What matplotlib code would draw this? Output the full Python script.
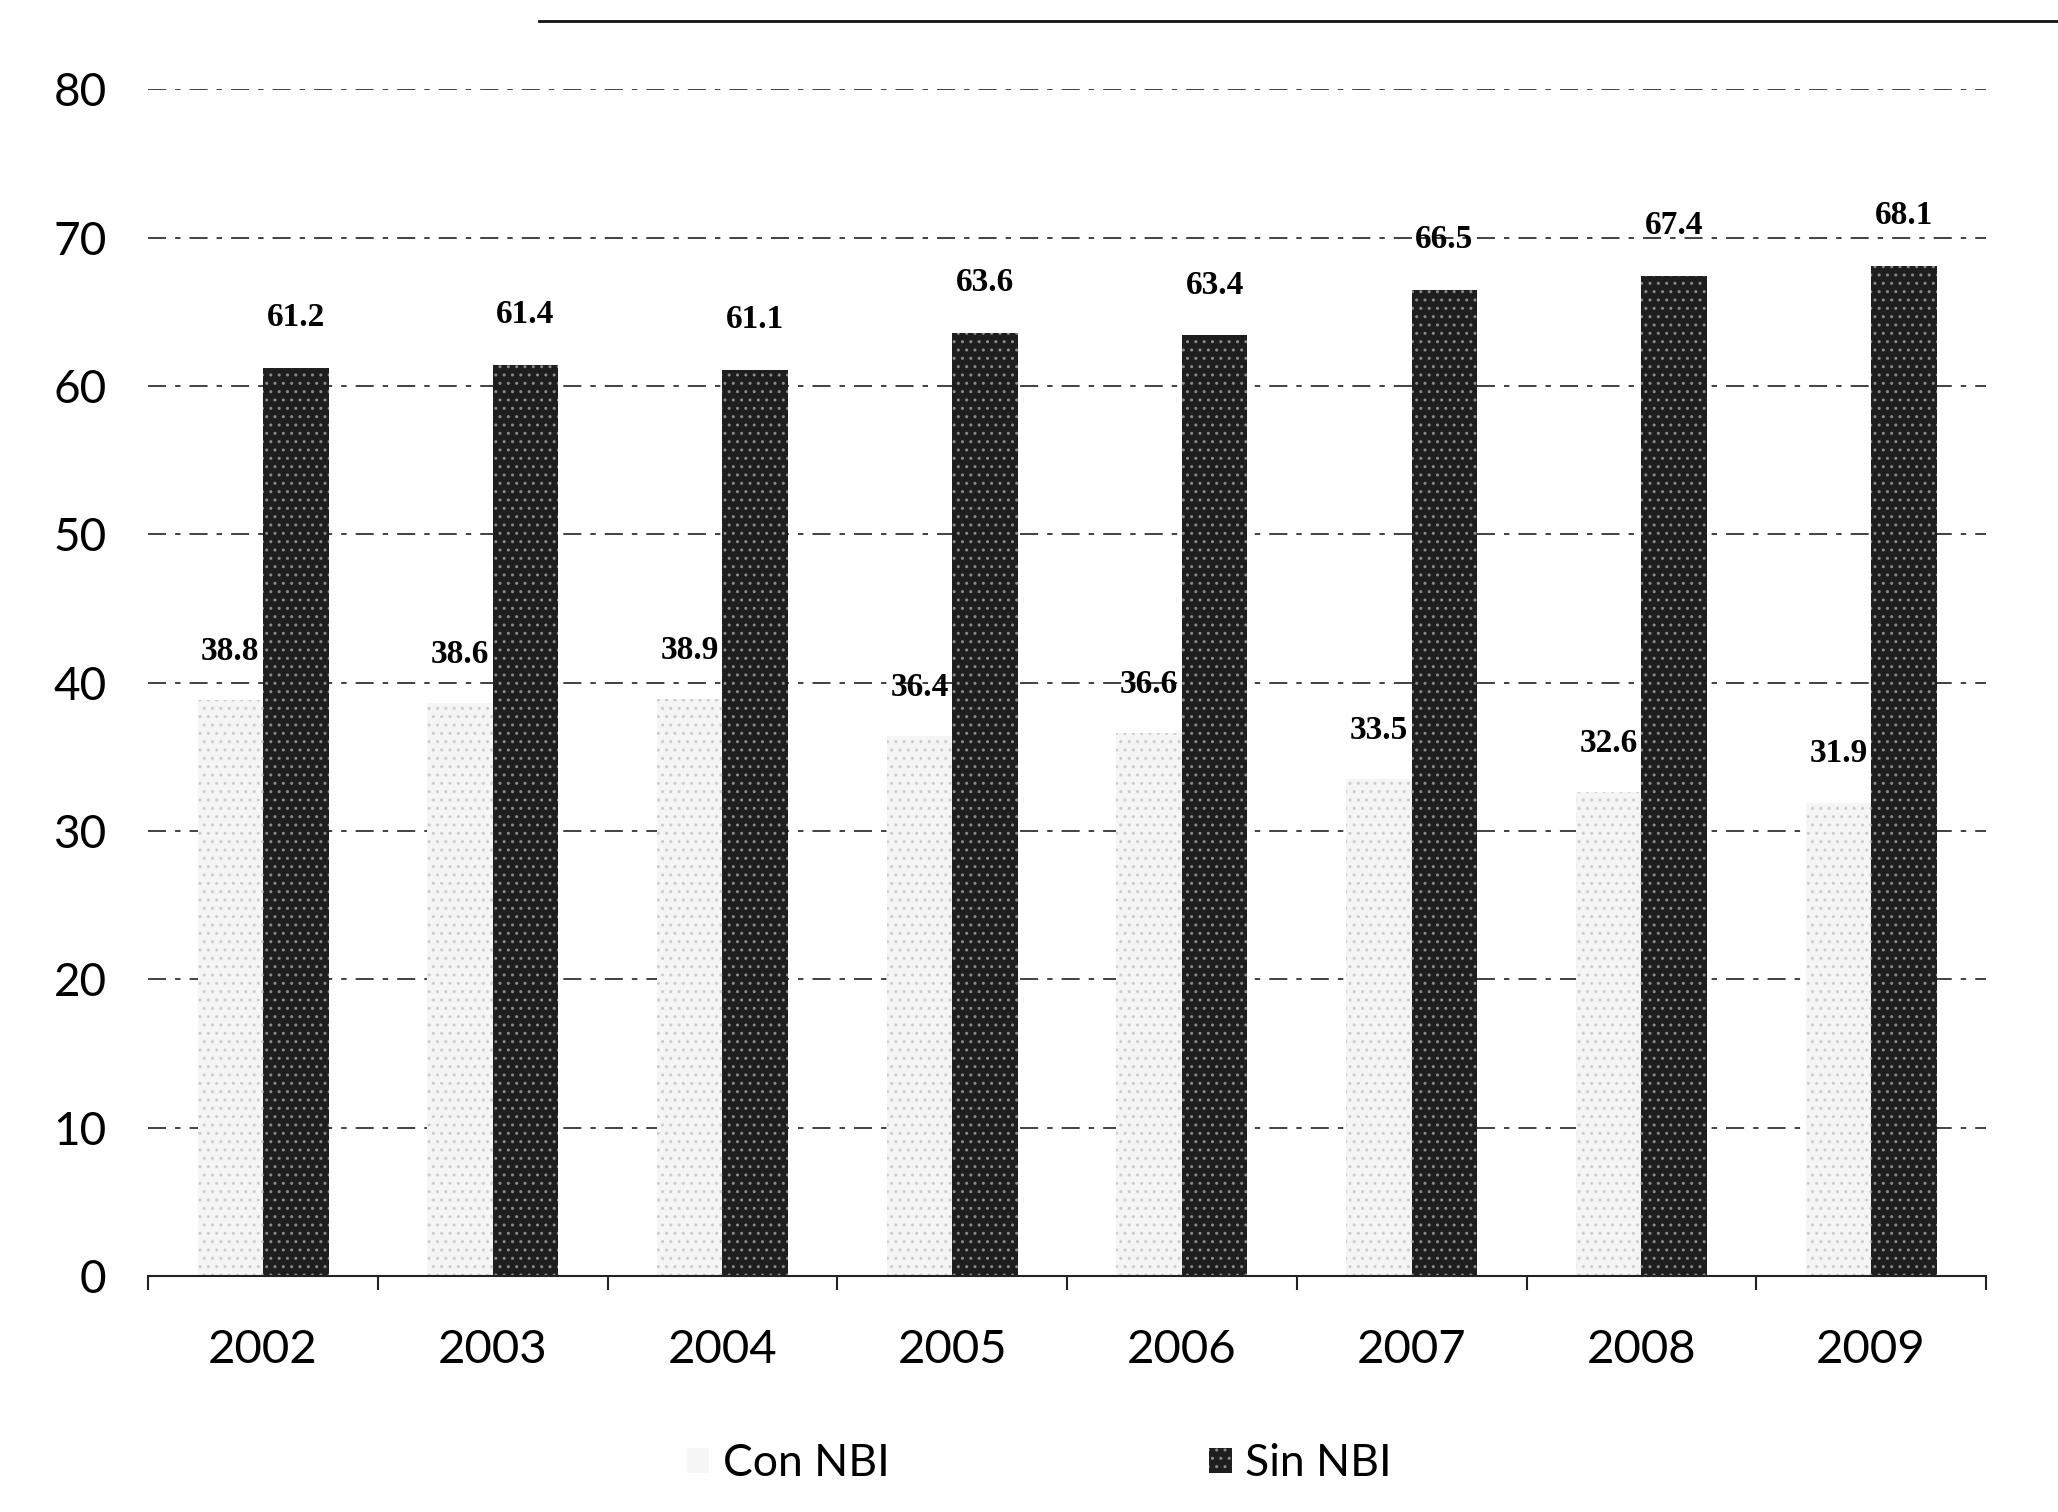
import numpy as np
import matplotlib
matplotlib.use('Agg')
import matplotlib.pyplot as plt
from matplotlib.patches import Patch
from matplotlib.lines import Line2D

years = ['2002', '2003', '2004', '2005', '2006', '2007', '2008', '2009']
con_nbi = [38.8, 38.6, 38.9, 36.4, 36.6, 33.5, 32.6, 31.9]
sin_nbi = [61.2, 61.4, 61.1, 63.6, 63.4, 66.5, 67.4, 68.1]

fig = plt.figure(figsize=(20.58, 15.12), dpi=100)
ax = fig.add_axes([0.072, 0.156, 0.893, 0.785])

x = np.arange(len(years))
w = 0.285

# light bars (Con NBI), barely visible in the scan
ax.bar(x - w / 2, con_nbi, w, color='#f5f5f5', edgecolor='none', zorder=2)
ax.bar(x - w / 2, con_nbi, w, facecolor='none', edgecolor='#cccccc', linewidth=0, hatch='..', zorder=2)
# dark speckled bars (Sin NBI)
ax.bar(x + w / 2, sin_nbi, w, color='#1e1e1e', edgecolor='none', zorder=2)
ax.bar(x + w / 2, sin_nbi, w, facecolor='none', edgecolor='#8a8a8a', linewidth=0, hatch='..', zorder=2)

lab_font = dict(family='Liberation Serif', fontweight='bold', fontsize=24, ha='center', va='center')
for i in range(len(years)):
    ax.text(x[i] - w / 2, con_nbi[i] + 3.3, '%.1f' % con_nbi[i], **lab_font)
    ax.text(x[i] + w / 2, sin_nbi[i] + 3.4, '%.1f' % sin_nbi[i], **lab_font)

ax.set_xlim(-0.5, 7.5)
ax.set_ylim(0, 80)
ax.set_yticks(range(0, 81, 10))
ax.set_xticks(x)
ax.set_xticklabels(years)
ax.set_xticks(np.arange(-0.5, 8, 1), minor=True)
ax.tick_params(axis='y', length=0, pad=30, labelsize=33)
ax.tick_params(axis='x', which='major', length=0, pad=38, labelsize=34)
ax.tick_params(axis='x', which='minor', length=10, width=1.5, direction='out', color='#222222')
for t in ax.get_xticklabels() + ax.get_yticklabels():
    t.set_fontfamily('Lato')

for s in ['top', 'right', 'left']:
    ax.spines[s].set_visible(False)
ax.spines['bottom'].set_color('#222222')
ax.spines['bottom'].set_linewidth(1.5)

ax.yaxis.grid(True, linestyle=(0, (10, 5, 3, 5)), color='#333333', linewidth=1.3, zorder=0)
ax.set_axisbelow(True)

handles = [Patch(facecolor='#f7f7f7', edgecolor='none'),
           Patch(facecolor='#1e1e1e', edgecolor='#8a8a8a', hatch='..', linewidth=0)]
leg = fig.legend(handles, ['Con NBI', 'Sin NBI'], loc='center', bbox_to_anchor=(0.505, 0.032),
                 ncol=2, frameon=False, handlelength=0.5, handleheight=0.5, handletextpad=0.3,
                 columnspacing=7.2, prop={'family': 'Lato', 'size': 32})

# page rule from the scan above the chart
fig.add_artist(Line2D([0.262, 1.0], [0.986, 0.986], color='#111111', linewidth=2))

fig.savefig('out.png', dpi=100)
